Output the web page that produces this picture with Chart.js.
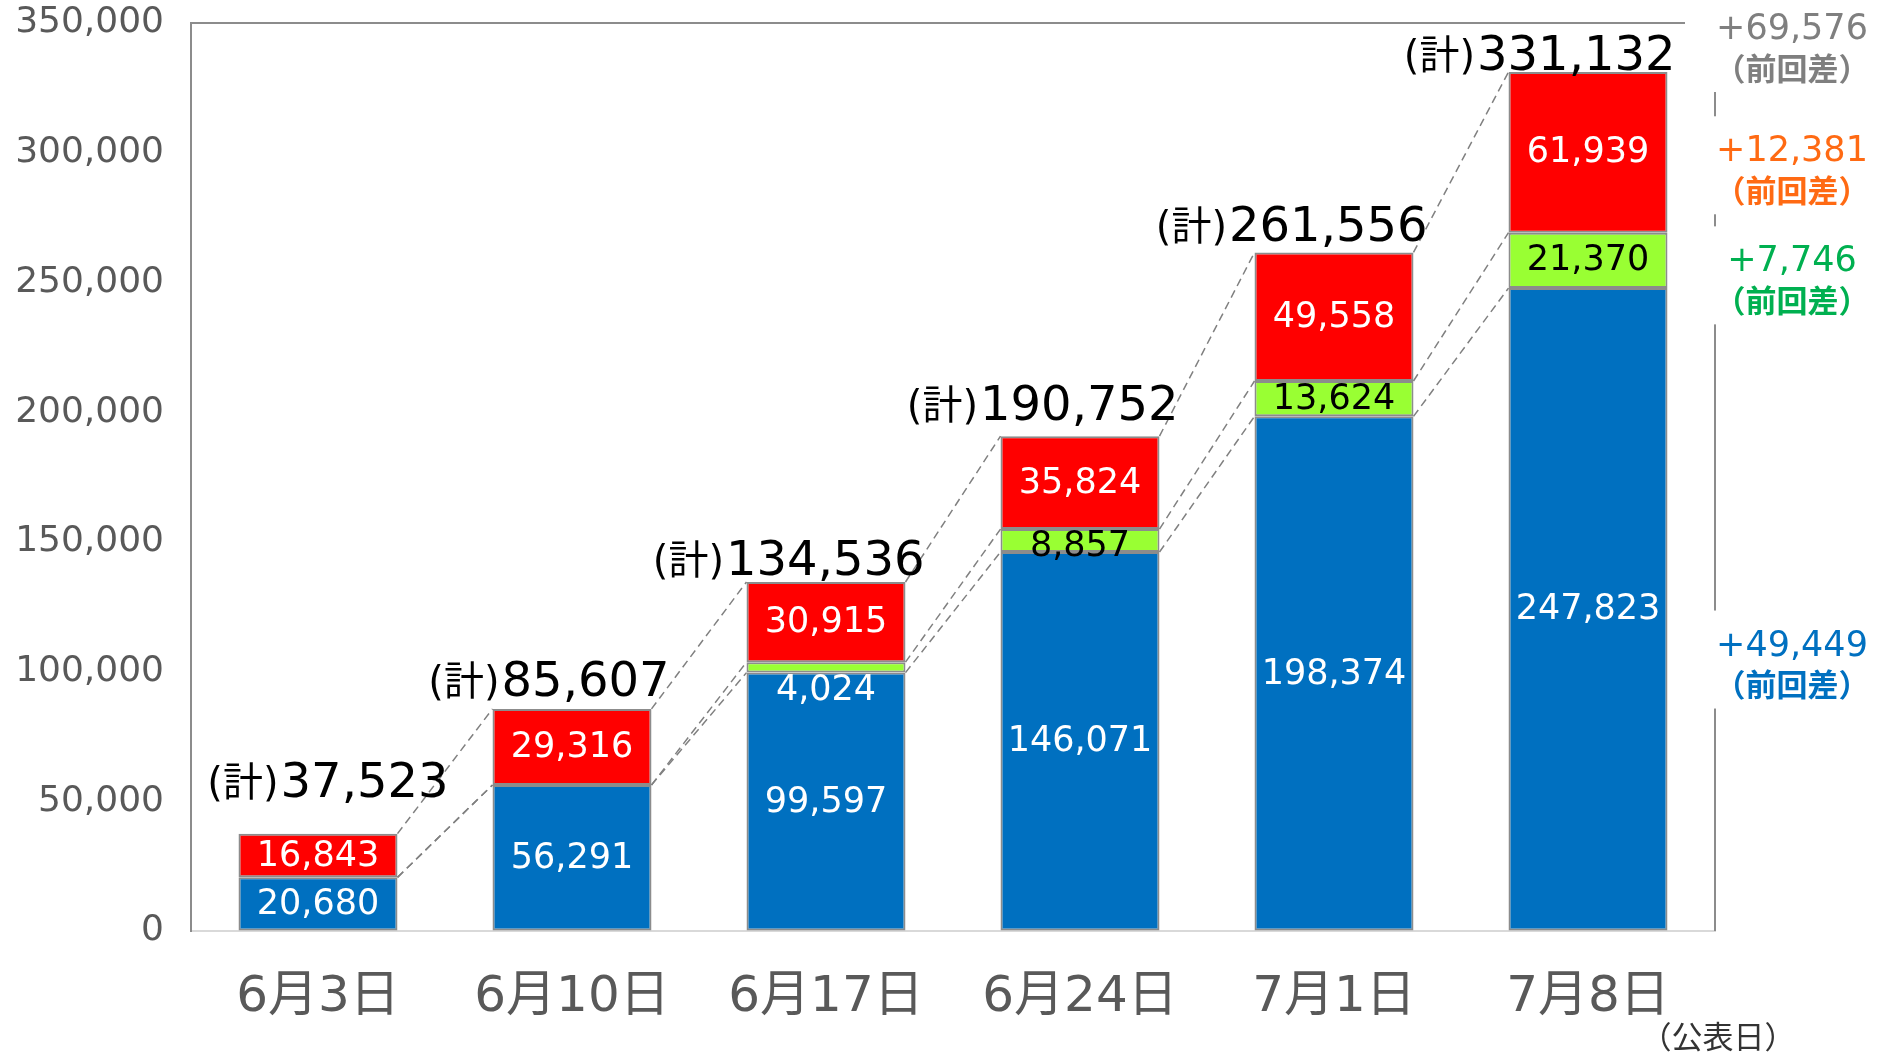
<!DOCTYPE html>
<html>
<head>
<meta charset="utf-8">
<script src="https://cdn.jsdelivr.net/npm/chart.js@4.4.0/dist/chart.umd.min.js"></script>
<style>
  html, body { margin: 0; padding: 0; background: #fff; }
  #wrap { width: 1877px; height: 1053px; position: relative; }
</style>
</head>
<body>
<div id="wrap"><canvas id="chart"></canvas></div>
<script>
const dates = ['6月3日', '6月10日', '6月17日', '6月24日', '7月1日', '7月8日'];
const blueVals = [20680, 56291, 99597, 146071, 198374, 247823];
const greenVals = [0, 0, 4024, 8857, 13624, 21370];
const redVals = [16843, 29316, 30915, 35824, 49558, 61939];
const yMax = 350000;
const yStep = 50000;

// Verdana-like digits (close to Meiryo), CJK falls back to Noto
const FONT = "'DejaVu Sans', 'Noto Sans CJK JP', sans-serif";
const CJK = "'Noto Sans CJK JP', sans-serif";
const fmt = v => v.toLocaleString('en-US');

// hand nudges for the "(計)" total labels: [dx from bar right, dy from bar top]
const totalNudge = [[51, -37], [18, -13], [19, -7], [19, -16], [14, -11], [8, -2]];

const overlay = {
  id: 'overlay',
  afterDatasetsDraw(chart) {
    const { ctx, chartArea: ca, scales: { y } } = chart;
    const metas = [0, 1, 2].map(i => chart.getDatasetMeta(i));
    const series = [blueVals, greenVals, redVals];
    ctx.save();

    // top + right frame
    ctx.strokeStyle = '#8c8c8c';
    ctx.lineWidth = 2;
    ctx.beginPath();
    ctx.moveTo(ca.left, ca.top);
    ctx.lineTo(ca.right, ca.top);
    ctx.lineTo(ca.right, ca.bottom);
    ctx.stroke();

    // dashed connectors between stack boundaries
    ctx.setLineDash([8, 5]);
    ctx.lineWidth = 1.5;
    ctx.strokeStyle = '#808080';
    for (let j = 0; j < dates.length - 1; j++) {
      const a = metas[0].data[j], b = metas[0].data[j + 1];
      const x1 = a.x + a.width / 2, x2 = b.x - b.width / 2;
      let c1 = 0, c2 = 0;
      series.forEach(arr => {
        c1 += arr[j]; c2 += arr[j + 1];
        ctx.beginPath();
        ctx.moveTo(x1, y.getPixelForValue(c1));
        ctx.lineTo(x2, y.getPixelForValue(c2));
        ctx.stroke();
      });
    }
    ctx.setLineDash([]);

    // segment labels
    ctx.textAlign = 'center';
    ctx.textBaseline = 'middle';
    ctx.font = `35px ${FONT}`;
    series.forEach((arr, i) => {
      metas[i].data.forEach((el, j) => {
        if (!arr[j]) return;
        const h = Math.abs(el.base - el.y);
        let cy = (el.y + el.base) / 2;
        let col = i === 1 ? '#000' : '#fff';
        if (i === 1 && h < 15) { cy = el.base + 17; col = '#fff'; }
        else if (i === 1 && h < 30) { cy += 5; }
        ctx.fillStyle = col;
        ctx.fillText(fmt(arr[j]), el.x, cy + 1);
      });
    });

    // totals
    ctx.textBaseline = 'alphabetic';
    ctx.textAlign = 'right';
    ctx.fillStyle = '#000';
    dates.forEach((d, j) => {
      const total = blueVals[j] + greenVals[j] + redVals[j];
      const el = metas[0].data[j];
      const xr = el.x + el.width / 2 + totalNudge[j][0];
      const yb = y.getPixelForValue(total) + totalNudge[j][1];
      ctx.font = `48px ${FONT}`;
      const s = fmt(total);
      const w = ctx.measureText(s).width;
      ctx.fillText(s, xr, yb);
      ctx.font = `40px ${FONT}`;
      ctx.fillText('(計)', xr - w - 2, yb - 1);
    });

    // right-side differences vs previous
    const n = dates.length - 1;
    const diff = arr => arr[n] - arr[n - 1];
    const totals = dates.map((d, j) => blueVals[j] + greenVals[j] + redVals[j]);
    const ax = 1792;
    const notes = [
      { v: totals[n] - totals[n - 1], c: '#7f7f7f', cy: ca.top + 5 },
      { v: diff(redVals), c: '#ff6a13', cy: y.getPixelForValue(blueVals[n] + greenVals[n] + redVals[n] / 2) - 2 },
      { v: diff(greenVals), c: '#00b050', cy: y.getPixelForValue(blueVals[n] + greenVals[n] / 2) },
      { v: diff(blueVals), c: '#0070c0', cy: y.getPixelForValue(blueVals[n] / 2) + 35 }
    ];
    ctx.textAlign = 'center';
    ctx.textBaseline = 'middle';
    notes.forEach((nt, k) => {
      ctx.fillStyle = '#fff';
      const top = k === 0 ? 0 : nt.cy - 34;
      ctx.fillRect(ca.right - 30, top, 1877 - ca.right + 30, nt.cy + 64 - top);
      ctx.fillStyle = nt.c;
      ctx.font = `35px ${FONT}`;
      ctx.fillText('+' + fmt(nt.v), ax, nt.cy + 2);
      ctx.font = `bold 31px ${CJK}`;
      ctx.fillText('（前回差）', ax, nt.cy + 40);
    });

    ctx.fillStyle = '#333';
    ctx.font = `31px ${CJK}`;
    ctx.fillText('（公表日）', 1718, 1036);
    ctx.restore();
  }
};

const borderW = ctx => (ctx.raw ? 2 : 0);

new Chart(document.getElementById('chart'), {
  type: 'bar',
  data: {
    labels: dates,
    datasets: [
      { label: 'blue', data: blueVals, backgroundColor: '#0070c0', borderColor: '#8c8c8c', borderWidth: borderW, borderSkipped: false },
      { label: 'green', data: greenVals, backgroundColor: '#99ff33', borderColor: '#8c8c8c', borderWidth: borderW, borderSkipped: false },
      { label: 'red', data: redVals, backgroundColor: '#ff0000', borderColor: '#8c8c8c', borderWidth: borderW, borderSkipped: false }
    ]
  },
  options: {
    responsive: true,
    maintainAspectRatio: false,
    animation: false,
    layout: { padding: { top: 23, right: 162, left: 0, bottom: 0 } },
    datasets: { bar: { barPercentage: 0.626, categoryPercentage: 1 } },
    plugins: { legend: { display: false }, tooltip: { enabled: false } },
    scales: {
      x: {
        stacked: true,
        grid: { display: true, color: 'transparent', drawTicks: false },
        border: { display: true, color: '#d9d9d9', width: 2 },
        ticks: { color: '#595959', font: { family: FONT, size: 50 }, padding: 37 },
        afterFit: s => { s.height = 122; }
      },
      y: {
        stacked: true,
        min: 0,
        max: yMax,
        grid: { display: true, color: 'transparent', drawTicks: false },
        border: { display: true, color: '#8c8c8c', width: 2 },
        ticks: { stepSize: yStep, color: '#595959', font: { family: FONT, size: 36 }, padding: 27, callback: v => fmt(v) },
        afterFit: s => { s.width = 191; s.paddingTop = 0; s.paddingBottom = 0; }
      }
    }
  },
  plugins: [overlay]
});
</script>
</body>
</html>
